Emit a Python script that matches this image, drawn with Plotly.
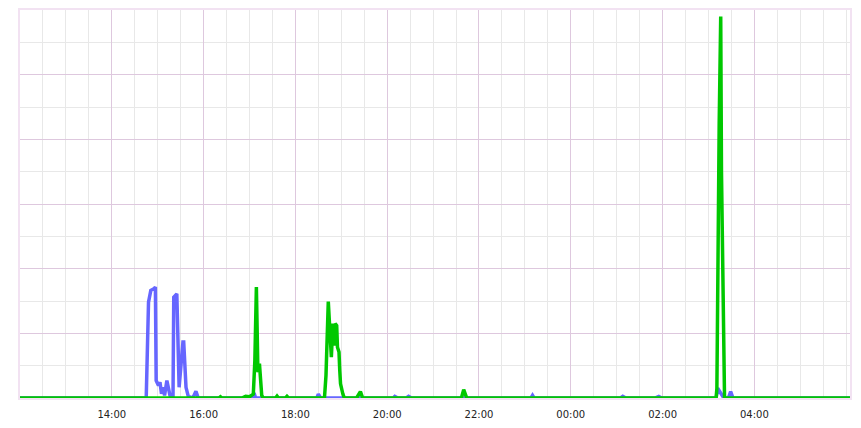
import plotly.graph_objects as go

# blue series, timestamps and values
blue_times = [
    "2024-05-06 12:00", "2024-05-06 14:45", "2024-05-06 14:48", "2024-05-06 14:51",
    "2024-05-06 14:55", "2024-05-06 14:57", "2024-05-06 14:58", "2024-05-06 15:01",
    "2024-05-06 15:03", "2024-05-06 15:05", "2024-05-06 15:07", "2024-05-06 15:09",
    "2024-05-06 15:12", "2024-05-06 15:14", "2024-05-06 15:16", "2024-05-06 15:18",
    "2024-05-06 15:20", "2024-05-06 15:21", "2024-05-06 15:25", "2024-05-06 15:28",
    "2024-05-06 15:30", "2024-05-06 15:33", "2024-05-06 15:34", "2024-05-06 15:37",
    "2024-05-06 15:40", "2024-05-06 15:46", "2024-05-06 15:50", "2024-05-06 15:53",
    "2024-05-06 17:04", "2024-05-06 17:06", "2024-05-06 17:08",
    "2024-05-06 18:28", "2024-05-06 18:30", "2024-05-06 18:33",
    "2024-05-06 20:08", "2024-05-06 20:10", "2024-05-06 20:14", "2024-05-06 20:25",
    "2024-05-06 20:28", "2024-05-06 20:32",
    "2024-05-06 23:08", "2024-05-06 23:10", "2024-05-06 23:12",
    "2024-05-07 01:05", "2024-05-07 01:08", "2024-05-07 01:12", "2024-05-07 01:50",
    "2024-05-07 01:55", "2024-05-07 01:59",
    "2024-05-07 03:10", "2024-05-07 03:12", "2024-05-07 03:17", "2024-05-07 03:20",
    "2024-05-07 03:26", "2024-05-07 03:29", "2024-05-07 03:32",
    "2024-05-07 06:05",
]
blue_values = [
    0, 0, 2.96, 3.33,
    3.38, 3.43, 0.54, 0.39,
    0.49, 0.13, 0.33, 0.08,
    0.54, 0.28, 0.08, 0.05,
    0, 3.12, 3.22, 0.33,
    0.95, 1.73, 1.73, 0.33,
    0.05, 0, 0.21, 0,
    0, 0.15, 0,
    0, 0.12, 0,
    0, 0.05, 0, 0,
    0.05, 0,
    0, 0.08, 0,
    0, 0.05, 0, 0,
    0.05, 0,
    0, 0.3, 0.1, 0,
    0, 0.2, 0,
    0,
]

# green series
green_times = [
    "2024-05-06 12:00", "2024-05-06 16:20", "2024-05-06 16:22", "2024-05-06 16:24",
    "2024-05-06 16:50", "2024-05-06 16:55", "2024-05-06 17:00", "2024-05-06 17:05",
    "2024-05-06 17:07", "2024-05-06 17:09", "2024-05-06 17:11", "2024-05-06 17:13",
    "2024-05-06 17:16", "2024-05-06 17:18",
    "2024-05-06 17:34", "2024-05-06 17:36", "2024-05-06 17:38",
    "2024-05-06 17:47", "2024-05-06 17:49", "2024-05-06 17:51",
    "2024-05-06 18:38", "2024-05-06 18:40", "2024-05-06 18:43", "2024-05-06 18:45",
    "2024-05-06 18:47", "2024-05-06 18:49", "2024-05-06 18:51", "2024-05-06 18:52",
    "2024-05-06 18:54", "2024-05-06 18:55", "2024-05-06 18:57", "2024-05-06 18:58",
    "2024-05-06 18:59", "2024-05-06 19:02", "2024-05-06 19:04",
    "2024-05-06 19:20", "2024-05-06 19:25", "2024-05-06 19:28",
    "2024-05-06 21:37", "2024-05-06 21:40", "2024-05-06 21:44",
    "2024-05-07 03:10", "2024-05-07 03:11", "2024-05-07 03:14", "2024-05-07 03:16",
    "2024-05-07 03:17", "2024-05-07 03:21",
    "2024-05-07 06:05",
]
green_values = [
    0, 0, 0.04, 0,
    0, 0.05, 0.04, 0.12,
    1.16, 3.43, 0.8, 1.06,
    0.08, 0,
    0, 0.06, 0,
    0, 0.05, 0,
    0, 0.7, 2.98, 1.83,
    1.26, 2.3, 1.62, 2.3,
    2.24, 1.57, 1.42, 0.85,
    0.44, 0.13, 0,
    0, 0.2, 0,
    0, 0.26, 0,
    0, 0.3, 8.5, 11.8,
    7.0, 0,
    0,
]

# labelled x ticks
tick_times = [
    "2024-05-06 14:00", "2024-05-06 16:00", "2024-05-06 18:00", "2024-05-06 20:00",
    "2024-05-06 22:00", "2024-05-07 00:00", "2024-05-07 02:00", "2024-05-07 04:00",
]
tick_labels = ["14:00", "16:00", "18:00", "20:00", "22:00", "00:00", "02:00", "04:00"]

fig = go.Figure()
fig.add_trace(go.Scatter(x=blue_times, y=blue_values, mode="lines",
                         line=dict(color="#6666ff", width=3.5)))
fig.add_trace(go.Scatter(x=green_times, y=green_values, mode="lines",
                         line=dict(color="#00c800", width=3.5)))

purple = "rgb(222,200,222)"
grey = "rgb(232,232,232)"
border = "rgb(242,226,242)"

# page body adds an 8px offset, margins compensate for it
fig.update_layout(
    width=861, height=428,
    margin=dict(l=12, r=19, t=2, b=38),
    paper_bgcolor="white", plot_bgcolor="white",
    showlegend=False,
    font=dict(family="DejaVu Sans", size=10, color="#222"),
)
fig.update_xaxes(
    type="date", automargin=False,
    range=["2024-05-06 12:00", "2024-05-07 06:05"],
    tickmode="array", tickvals=tick_times, ticktext=tick_labels,
    showgrid=True, gridcolor=purple, gridwidth=1,
    minor=dict(tick0="2024-05-06 12:00", dtick=30 * 60 * 1000,
               showgrid=True, gridcolor=grey, gridwidth=1),
    ticks="outside", ticklen=6, tickcolor="white",
    showline=True, mirror=True, linecolor=border, linewidth=2,
    zeroline=False,
)
fig.update_yaxes(
    automargin=False,
    range=[0, 12], dtick=2, showticklabels=False,
    showgrid=True, gridcolor=purple, gridwidth=1,
    minor=dict(dtick=1, showgrid=True, gridcolor=grey, gridwidth=1),
    showline=True, mirror=True, linecolor=border, linewidth=2,
    zeroline=False,
)

fig.write_html("out.html")
